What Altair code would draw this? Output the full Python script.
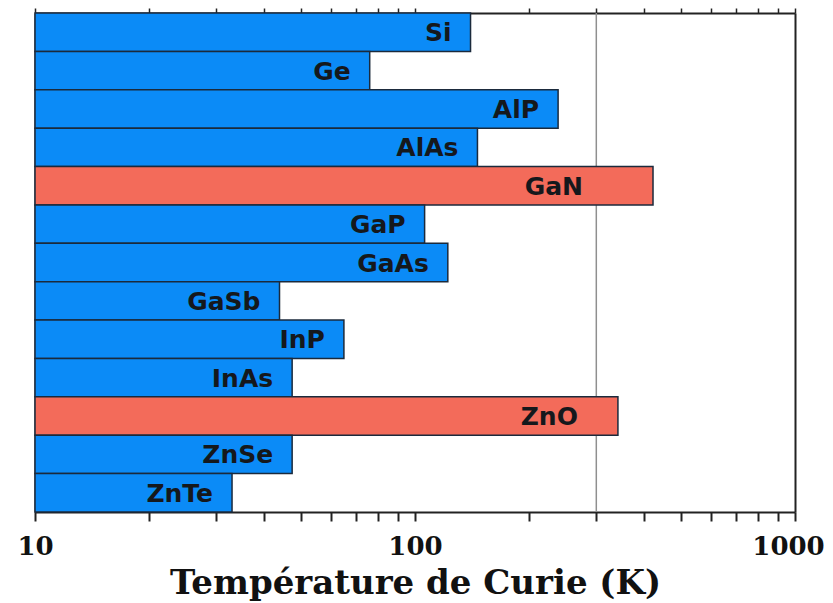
import altair as alt
import pandas as pd

materials = ["Si", "Ge", "AlP", "AlAs", "GaN", "GaP", "GaAs", "GaSb", "InP", "InAs", "ZnO", "ZnSe", "ZnTe"]
curie_k = [140, 76, 238, 146, 423, 106, 122, 44, 65, 47.5, 342, 47.5, 33]
highlight = ["no", "no", "no", "no", "yes", "no", "no", "no", "no", "no", "yes", "no", "no"]
tick_values = [10, 20, 30, 40, 50, 60, 70, 80, 90, 100, 200, 300, 400, 500, 600, 700, 800, 900, 1000]
room_temp = [300]

df = pd.DataFrame({"mat": materials, "tc": curie_k, "hl": highlight})

xscale = alt.Scale(type="log", domain=[10, 1000], nice=False)
yscale = alt.Scale(paddingInner=0, paddingOuter=0)

def frame_axis(orient):
    return alt.Axis(orient=orient, labels=False, ticks=False, title=None, grid=False,
                    domainColor="#222", domainWidth=2)

rule = alt.Chart(pd.DataFrame({"t": room_temp})).mark_rule(
    color="#8f8f8f", strokeWidth=1.5
).encode(
    x=alt.X("t:Q", scale=xscale,
            axis=alt.Axis(orient="top", values=tick_values, labels=False, title=None,
                          tickSize=5, tickColor="#222", domainColor="#222",
                          domainWidth=2, tickWidth=1.5, grid=False))
)

bars = alt.Chart(df).mark_bar(stroke="#1b2a3c", strokeWidth=1.5).encode(
    x=alt.X("tc:Q", scale=xscale,
            axis=alt.Axis(orient="bottom", values=tick_values,
                          labelExpr="(datum.value == 10 || datum.value == 100 || datum.value == 1000) ? datum.label : ''",
                          format="d",
                          title="Température de Curie (K)",
                          titleFont="DejaVu Serif", titleFontSize=34, titleFontWeight="bold",
                          titleColor="#111", titlePadding=7,
                          labelFont="DejaVu Serif", labelFontSize=26, labelFontWeight="bold",
                          labelColor="#111", labelPadding=12,
                          labelOffset={"condition": {"test": "datum.value == 1000", "value": -7}, "value": 0},
                          tickSize=9, tickWidth=2, tickColor="#222",
                          domainColor="#222", domainWidth=2, grid=False,
                          labelFlush=False, labelOverlap=False)),
    x2=alt.datum(10),
    y=alt.Y("mat:N", sort=materials, scale=yscale, axis=frame_axis("left")),
    color=alt.Color("hl:N", scale=alt.Scale(domain=["no", "yes"], range=["#0b8bf7", "#f36b5a"]), legend=None),
)

def label_layer(filter_expr, dx, yaxis=None):
    return alt.Chart(df).transform_filter(filter_expr).mark_text(
        align="right", baseline="middle", dx=dx, dy=1,
        font="DejaVu Sans", fontSize=25, fontWeight="bold", color="#15181c"
    ).encode(x=alt.X("tc:Q", scale=xscale, axis=None),
             y=alt.Y("mat:N", sort=materials, scale=yscale, axis=yaxis),
             text="mat:N")

text_blue = label_layer("datum.hl == 'no'", -19, frame_axis("right"))
text_gan = label_layer("datum.mat == 'GaN'", -70)
text_zno = label_layer("datum.mat == 'ZnO'", -40)

chart = alt.layer(rule, bars, text_blue, text_gan, text_zno).resolve_axis(
    x="independent", y="independent"
).properties(
    width=760, height=499,
    autosize=alt.AutoSizeParams(type="none"),
    padding={"left": 27, "top": 5, "right": 30, "bottom": 91},
).configure_view(stroke="#333", strokeWidth=2).configure(background="white")

chart.save("out.html", embed_options={"renderer": "svg", "actions": False})
